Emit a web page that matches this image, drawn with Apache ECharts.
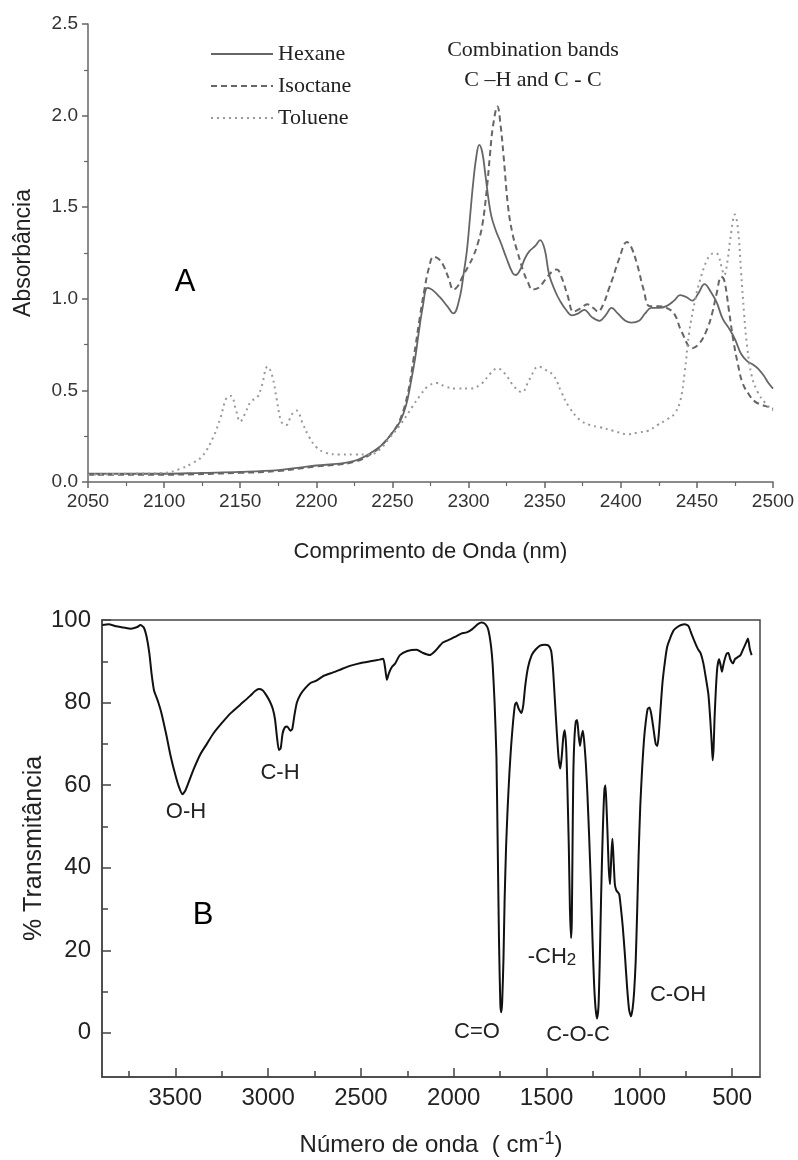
<!DOCTYPE html>
<html><head><meta charset="utf-8">
<script src="https://cdn.jsdelivr.net/npm/echarts@6/dist/echarts.min.js"></script>
<style>html,body{margin:0;padding:0;background:#fff}#c{width:798px;height:1160px}</style>
</head><body><div id="c"></div>
<script>
// ---- Chart A: NIR absorbance ----
const hexaneNm = [2050,2075,2100,2125,2150,2175,2190,2200,2215,2225,2232,2238,2244,2250,2255,2259,2262,2265,2267,2270,2273,2276,2281,2286,2290,2294,2297,2299,2301,2303,2305,2307,2309,2311,2313,2315,2318,2321,2325,2329,2331,2334,2337,2340,2344,2347,2350,2353,2357,2360,2364,2368,2372,2376,2381,2386,2390,2394,2398,2403,2407,2412,2416,2420,2425,2430,2435,2439,2443,2447,2451,2455,2459,2463,2467,2471,2475,2479,2483,2487,2490,2494,2497,2500];
const hexaneAbs = [0.045,0.045,0.045,0.05,0.055,0.065,0.08,0.09,0.10,0.115,0.14,0.17,0.21,0.27,0.33,0.42,0.54,0.68,0.80,0.96,1.06,1.05,1.01,0.96,0.92,1.00,1.15,1.27,1.45,1.63,1.77,1.84,1.80,1.68,1.55,1.45,1.37,1.31,1.22,1.14,1.13,1.16,1.22,1.26,1.29,1.32,1.27,1.13,1.04,0.99,0.94,0.91,0.92,0.94,0.90,0.88,0.91,0.95,0.92,0.88,0.87,0.88,0.92,0.95,0.95,0.96,0.99,1.02,1.01,0.99,1.03,1.08,1.04,0.98,0.89,0.84,0.78,0.70,0.66,0.64,0.62,0.58,0.54,0.51];
const isoctaneNm = [2050,2100,2150,2175,2200,2225,2238,2244,2250,2255,2260,2264,2268,2271,2274,2277,2280,2283,2287,2290,2293,2296,2300,2303,2306,2309,2312,2314,2316,2319,2321,2323,2326,2329,2332,2336,2339,2342,2346,2350,2355,2358,2361,2365,2369,2374,2378,2382,2385,2389,2392,2395,2399,2404,2407,2411,2415,2419,2425,2430,2435,2440,2447,2452,2457,2460,2463,2466,2468,2471,2474,2477,2480,2484,2488,2493,2497,2500];
const isoctaneAbs = [0.04,0.04,0.05,0.06,0.085,0.11,0.165,0.21,0.27,0.34,0.48,0.68,0.90,1.05,1.17,1.23,1.22,1.19,1.11,1.05,1.07,1.12,1.18,1.23,1.30,1.40,1.60,1.78,1.94,2.05,1.95,1.78,1.50,1.35,1.26,1.15,1.09,1.05,1.06,1.10,1.15,1.16,1.12,1.02,0.93,0.95,0.97,0.95,0.93,0.98,1.05,1.12,1.22,1.31,1.28,1.18,1.05,0.96,0.96,0.95,0.92,0.82,0.73,0.76,0.84,0.92,1.03,1.12,1.10,0.94,0.77,0.64,0.54,0.48,0.44,0.42,0.41,0.40];
const tolueneNm = [2050,2075,2100,2110,2118,2125,2132,2137,2141,2144,2147,2150,2153,2157,2161,2164,2168,2171,2174,2177,2180,2184,2187,2191,2195,2200,2206,2215,2225,2235,2242,2248,2255,2263,2268,2273,2279,2285,2292,2301,2309,2314,2319,2324,2330,2335,2340,2346,2351,2356,2361,2366,2373,2380,2386,2395,2405,2411,2418,2424,2430,2435,2439,2442,2445,2449,2452,2456,2459,2462,2464,2466,2468,2470,2472,2475,2477,2479,2481,2483,2486,2490,2495,2500];
const tolueneAbs = [0.04,0.045,0.05,0.07,0.10,0.14,0.24,0.35,0.46,0.47,0.40,0.33,0.37,0.44,0.46,0.52,0.63,0.58,0.45,0.33,0.31,0.37,0.39,0.32,0.25,0.19,0.16,0.15,0.15,0.15,0.18,0.24,0.31,0.41,0.47,0.52,0.54,0.52,0.51,0.51,0.54,0.59,0.62,0.59,0.52,0.49,0.56,0.63,0.61,0.58,0.49,0.41,0.34,0.31,0.30,0.28,0.26,0.27,0.28,0.31,0.34,0.37,0.44,0.60,0.82,1.00,1.10,1.20,1.24,1.25,1.24,1.18,1.13,1.20,1.33,1.46,1.38,1.15,0.92,0.74,0.58,0.49,0.43,0.39];
const seriesNamesA = ['Hexane','Isoctane','Toluene'];

// ---- Chart B: FTIR transmittance ----
const wavenumber = [3893,3860,3820,3780,3740,3705,3688,3670,3655,3640,3628,3615,3595,3575,3550,3525,3500,3480,3462,3448,3430,3400,3365,3330,3295,3250,3200,3150,3100,3070,3050,3030,3010,2990,2975,2963,2952,2942,2932,2922,2910,2897,2880,2870,2858,2845,2825,2800,2770,2740,2700,2650,2600,2550,2500,2450,2400,2380,2370,2360,2350,2335,2315,2290,2250,2200,2165,2130,2100,2060,2020,1990,1960,1930,1900,1870,1850,1830,1815,1800,1790,1780,1770,1763,1756,1749,1744,1739,1732,1726,1718,1710,1700,1690,1680,1670,1662,1650,1635,1625,1615,1600,1580,1560,1535,1510,1490,1475,1465,1455,1445,1435,1426,1418,1410,1402,1394,1388,1380,1374,1368,1364,1360,1356,1350,1342,1335,1327,1320,1313,1305,1298,1288,1280,1270,1262,1252,1244,1236,1228,1220,1213,1206,1200,1194,1188,1183,1178,1172,1165,1158,1150,1145,1140,1132,1124,1115,1108,1100,1090,1078,1066,1055,1045,1036,1028,1020,1012,1004,995,985,975,965,955,945,935,925,912,903,895,885,875,862,850,835,815,795,775,755,735,718,700,685,670,655,640,628,618,610,605,600,595,588,580,570,562,555,548,540,530,520,510,495,485,470,455,440,425,415,405,395];
const transmittance = [98.8,99.0,98.5,98.2,97.9,98.3,98.8,98.2,96.0,92.0,87.0,83.0,80.5,77.5,72.5,67.0,62.5,59.5,57.8,58.5,60.5,64.0,67.5,70.0,72.5,75.0,77.5,79.5,81.5,82.8,83.3,83.0,81.8,80.2,78.5,76.0,71.5,68.5,69.0,72.5,74.0,74.2,73.2,73.6,77.0,80.0,82.0,83.5,84.8,85.3,86.5,87.3,88.2,89.0,89.6,90.0,90.4,90.6,88.5,85.5,87.0,88.5,89.5,91.5,92.5,92.8,92.0,91.5,92.5,94.5,95.3,96.0,96.7,97.0,97.8,99.0,99.4,99.0,97.8,94.0,89.0,80.0,67.0,45.0,22.0,7.0,5.0,7.5,18.0,32.0,45.0,54.0,63.0,70.0,75.5,79.5,80.0,78.5,77.5,79.5,84.0,88.5,91.5,92.8,93.8,94.0,93.8,92.5,88.0,80.5,73.0,66.5,64.0,67.0,71.5,73.3,69.0,60.0,45.0,30.0,23.0,27.0,45.0,62.0,71.0,75.5,75.8,72.0,69.5,71.5,73.2,71.0,65.0,58.0,47.0,37.0,22.0,12.0,6.0,3.5,6.5,18.0,33.0,44.0,53.0,59.0,60.0,56.0,49.0,40.0,36.0,44.0,47.0,43.0,36.0,34.5,34.0,33.5,30.5,26.0,19.0,11.0,5.5,4.0,6.0,10.0,17.0,29.0,43.0,55.0,64.0,71.0,75.5,78.5,78.8,77.0,74.0,70.0,69.5,72.5,79.0,85.0,90.0,93.5,95.5,97.5,98.3,98.8,99.0,98.5,96.5,94.5,93.0,92.0,89.5,85.5,82.0,76.0,70.0,66.0,69.0,76.0,83.0,88.5,90.5,89.0,87.5,89.0,90.5,91.8,92.0,90.5,89.5,90.5,91.0,91.5,93.0,94.5,95.5,93.0,91.5];
const bMajorX = [500,1000,1500,2000,2500,3000,3500];
const bMinorX = [750,1250,1750,2250,2750,3250,3750];
const bMajorY = [0,20,40,60,80,100];
const bMinorY = [10,30,50,70,90];

const zip = (a, b) => a.map((v, i) => [v, b[i]]);
const sans = 'Liberation Sans, Arial, sans-serif';
const serif = 'Liberation Serif, Times New Roman, serif';
const plain = v => String(v);

const chart = echarts.init(document.getElementById('c'), null, {renderer: 'canvas'});
const axA = '#666';
const axB = '#444';

chart.setOption({
  backgroundColor: '#fff',
  animation: false,
  legend: {
    data: seriesNamesA,
    orient: 'vertical', left: 205, top: 38,
    itemWidth: 62, itemHeight: 14, itemGap: 10,
    itemStyle: {opacity: 0, borderWidth: 0},
    textStyle: {fontFamily: serif, fontSize: 22, color: '#222'}
  },
  grid: [
    {left: 88, top: 24, width: 685, height: 458},
    {left: 102, top: 620, width: 658, height: 457, show: true, borderColor: axB, borderWidth: 1.5, backgroundColor: 'transparent'}
  ],
  xAxis: [
    {gridIndex: 0, type: 'value', min: 2050, max: 2500, interval: 50,
     axisLine: {onZero: false, lineStyle: {color: axA, width: 1.5}},
     axisTick: {show: true, inside: false, length: 6, lineStyle: {color: axA, width: 1.5}},
     minorTick: {show: true, splitNumber: 2, length: 4, lineStyle: {color: axA, width: 1.2}},
     splitLine: {show: false},
     axisLabel: {fontFamily: sans, fontSize: 19, color: '#333', margin: 10, formatter: plain},
     name: 'Comprimento de Onda (nm)', nameLocation: 'middle', nameGap: 59,
     nameTextStyle: {fontFamily: sans, fontSize: 22, color: '#222'}},
    {gridIndex: 1, type: 'value', inverse: true, min: 350, max: 3895,
     axisLine: {onZero: false, lineStyle: {color: axB, width: 1.5}},
     axisTick: {show: true, inside: true, length: 9, customValues: bMajorX, lineStyle: {color: axB, width: 1.5}},
     splitLine: {show: false},
     axisLabel: {fontFamily: sans, fontSize: 24, color: '#222', margin: 9, customValues: bMajorX, formatter: plain},
     name: 'Número de onda  ( cm{s|-1})', nameLocation: 'middle', nameGap: 53,
     nameTextStyle: {fontFamily: sans, fontSize: 24, color: '#222',
       rich: {s: {fontFamily: sans, fontSize: 18, color: '#222', verticalAlign: 'bottom', padding: [0, 0, 12, 0]}}}},
    {gridIndex: 1, type: 'value', inverse: true, min: 350, max: 3895, position: 'bottom',
     axisLine: {show: false, onZero: false},
     axisTick: {show: true, inside: true, length: 6, customValues: bMinorX, lineStyle: {color: axB, width: 1.5}},
     splitLine: {show: false}, axisLabel: {show: false}}
  ],
  yAxis: [
    {gridIndex: 0, type: 'value', min: 0, max: 2.5, interval: 0.5,
     axisLine: {show: true, onZero: false, lineStyle: {color: axA, width: 1.5}},
     axisTick: {show: true, inside: false, length: 6, lineStyle: {color: axA, width: 1.5}},
     minorTick: {show: true, splitNumber: 2, length: 4, lineStyle: {color: axA, width: 1.2}},
     splitLine: {show: false},
     axisLabel: {fontFamily: sans, fontSize: 19, color: '#333', margin: 10, formatter: v => v.toFixed(1)},
     name: 'Absorbância', nameLocation: 'middle', nameGap: 53,
     nameTextStyle: {fontFamily: sans, fontSize: 23, color: '#222'}},
    {gridIndex: 1, type: 'value', min: -10.7, max: 100, position: 'left',
     axisLine: {show: true, onZero: false, lineStyle: {color: axB, width: 1.5}},
     axisTick: {show: true, inside: true, length: 9, customValues: bMajorY, lineStyle: {color: axB, width: 1.5}},
     splitLine: {show: false},
     axisLabel: {fontFamily: sans, fontSize: 24, color: '#222', margin: 11, customValues: bMajorY, formatter: plain},
     name: '% Transmitância', nameLocation: 'middle', nameGap: 55, nameMoveOverlap: false,
     nameTextStyle: {fontFamily: sans, fontSize: 25, color: '#222'}},
    {gridIndex: 1, type: 'value', min: -10.7, max: 100, position: 'left', offset: 0,
     axisLine: {show: false, onZero: false},
     axisTick: {show: true, inside: true, length: 6, customValues: bMinorY, lineStyle: {color: axB, width: 1.5}},
     splitLine: {show: false}, axisLabel: {show: false}}
  ],
  series: [
    {name: 'Hexane', type: 'line', xAxisIndex: 0, yAxisIndex: 0, data: zip(hexaneNm, hexaneAbs),
     showSymbol: false, symbol: 'none', smooth: 0.4,
     lineStyle: {color: '#666', width: 1.8, type: 'solid'}, itemStyle: {color: '#666'}},
    {name: 'Isoctane', type: 'line', xAxisIndex: 0, yAxisIndex: 0, data: zip(isoctaneNm, isoctaneAbs),
     showSymbol: false, symbol: 'none', smooth: 0.4,
     lineStyle: {color: '#666', width: 2, type: [6, 4]}, itemStyle: {color: '#666'}},
    {name: 'Toluene', type: 'line', xAxisIndex: 0, yAxisIndex: 0, data: zip(tolueneNm, tolueneAbs),
     showSymbol: false, symbol: 'none', smooth: 0.4,
     lineStyle: {color: '#999', width: 2, type: [2, 4]}, itemStyle: {color: '#999'}},
    {name: 'FTIR', type: 'line', xAxisIndex: 1, yAxisIndex: 1, data: zip(wavenumber, transmittance),
     showSymbol: false, symbol: 'none', smooth: 0.2,
     lineStyle: {color: '#111', width: 2}, itemStyle: {color: '#111'}}
  ],
  graphic: [
    {type: 'text', style: {text: 'Combination bands', x: 533, y: 50, fontFamily: serif, fontSize: 22, fill: '#222', align: 'center', verticalAlign: 'middle'}},
    {type: 'text', style: {text: 'C \u2013H and C - C', x: 533, y: 80, fontFamily: serif, fontSize: 22, fill: '#222', align: 'center', verticalAlign: 'middle'}},
    {type: 'text', style: {text: 'A', x: 185, y: 282, fontFamily: sans, fontSize: 31, fill: '#000', align: 'center', verticalAlign: 'middle'}},
    {type: 'text', style: {text: 'B', x: 203, y: 915, fontFamily: sans, fontSize: 31, fill: '#000', align: 'center', verticalAlign: 'middle'}},
    {type: 'text', style: {text: 'O-H', x: 186, y: 812, fontFamily: sans, fontSize: 22, fill: '#222', align: 'center', verticalAlign: 'middle'}},
    {type: 'text', style: {text: 'C-H', x: 280, y: 773, fontFamily: sans, fontSize: 22, fill: '#222', align: 'center', verticalAlign: 'middle'}},
    {type: 'text', style: {text: 'C=O', x: 477, y: 1032, fontFamily: sans, fontSize: 22, fill: '#222', align: 'center', verticalAlign: 'middle'}},
    {type: 'text', style: {text: '-CH{s|2}', x: 552, y: 957, fontFamily: sans, fontSize: 22, fill: '#222', align: 'center', verticalAlign: 'middle', rich: {s: {fontFamily: sans, fontSize: 17, fill: '#222', padding: [6, 0, 0, 0]}}}},
    {type: 'text', style: {text: 'C-O-C', x: 578, y: 1035, fontFamily: sans, fontSize: 22, fill: '#222', align: 'center', verticalAlign: 'middle'}},
    {type: 'text', style: {text: 'C-OH', x: 678, y: 995, fontFamily: sans, fontSize: 22, fill: '#222', align: 'center', verticalAlign: 'middle'}}
  ]
});
</script>
</body></html>
